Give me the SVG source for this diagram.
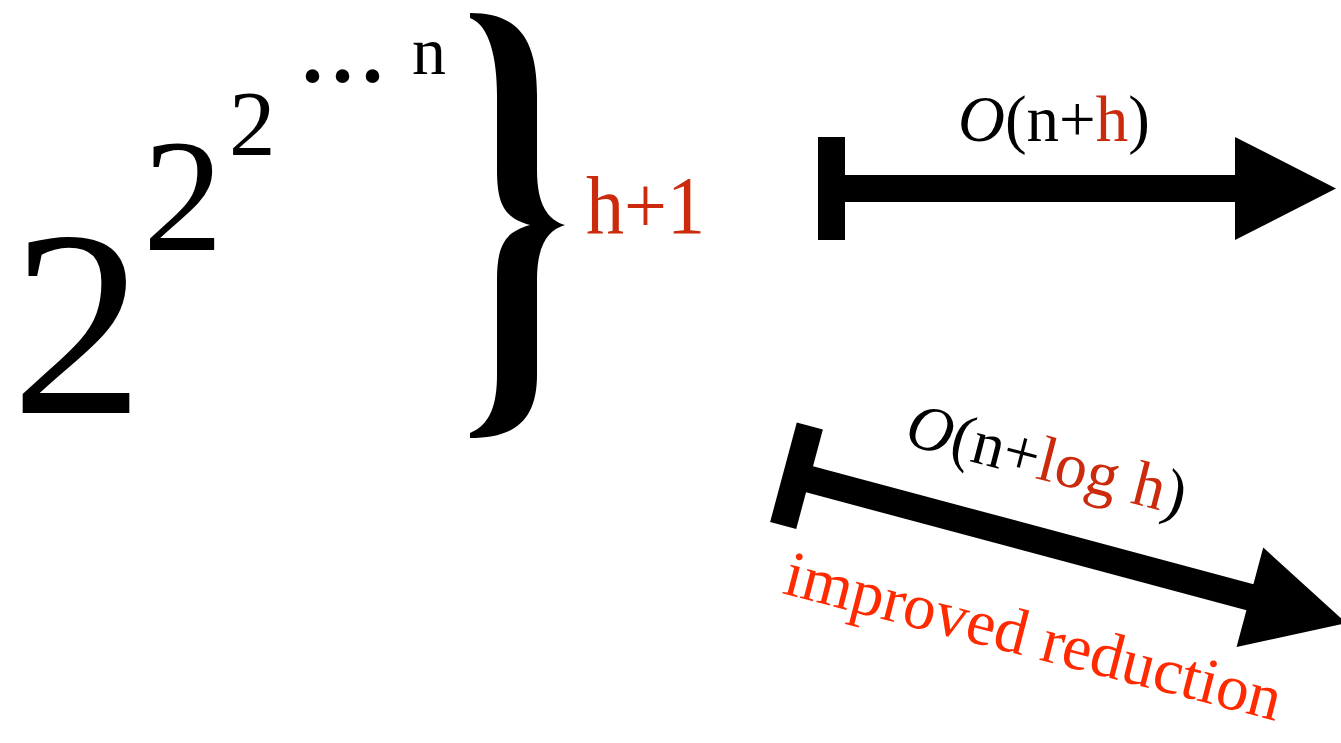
<svg xmlns="http://www.w3.org/2000/svg" width="1341" height="743" viewBox="0 0 1341 743">
<style>
.t{font-family:"Liberation Serif","Times New Roman",serif;fill:#000}
.dr{fill:#cc2a0c}
.br{fill:#ff2a00}
.cal{font-style:italic}
.blk{fill:#000;stroke:none}
</style>
<rect width="1341" height="743" fill="#fff"/>
<g id="tower">
<text class="t" x="11" y="413" font-size="266">2</text>
<text class="t" x="143" y="250" font-size="160">2</text>
<text class="t" x="229" y="155" font-size="93">2</text>
<text class="t" x="302" y="82" font-size="84" font-weight="bold" letter-spacing="9">...</text>
<text class="t" x="412" y="74" font-size="68">n</text>
</g>
<g id="brace">
<path class="blk" d="M470,13 C515,13 537,35 537,95 L537,170 C537,205 548,220 565,225 C548,230 537,245 537,280 L537,375 C537,420 515,438 470,438 L470,433 C490,425 497,405 497,375 L497,280 C497,245 505,232 530,225 C505,218 497,205 497,170 L497,95 C497,60 490,25 470,18 Z"/>
</g>
<g id="label-h1">
<text class="t dr" x="586" y="233" font-size="82" textLength="119" lengthAdjust="spacingAndGlyphs">h+1</text>
</g>
<g id="connectors">
<g id="arrow-top">
<rect class="blk" x="818" y="137" width="27" height="103"/>
<rect class="blk" x="844" y="175" width="393" height="27"/>
<polygon class="blk" points="1235,137 1336,188.5 1235,240"/>
</g>
<g id="arrow-bottom" transform="translate(796.5,475.75) rotate(15)">
<rect class="blk" x="-13.5" y="-51.5" width="27" height="103"/>
<rect class="blk" x="12.5" y="-13.5" width="458" height="27"/>
<polygon class="blk" points="469.4,-51.5 569.4,0 469.4,51.5"/>
</g>
</g>
<g id="label-top">
<text class="t" x="958" y="141" font-size="65"><tspan class="cal">O</tspan>(n+<tspan class="dr">h</tspan>)</text>
</g>
<g id="label-bottom">
<text class="t" x="903" y="444" font-size="64" transform="rotate(14.5 903 444)"><tspan class="cal">O</tspan>(n+<tspan class="dr">log h</tspan>)</text>
</g>
<g id="label-improved">
<text class="t br" x="781" y="593" font-size="65" transform="rotate(14.5 781 593)">improved reduction</text>
</g>
</svg>
